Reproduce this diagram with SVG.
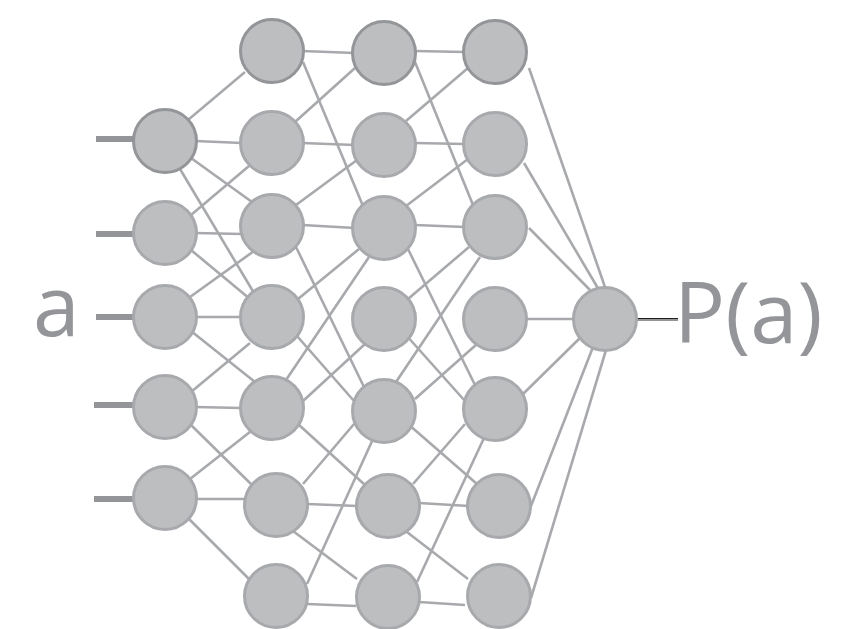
<svg xmlns="http://www.w3.org/2000/svg" width="861" height="629" viewBox="0 0 861 629">
  <style>
    .edge { stroke: #a7a9ac; stroke-width: 2.6; fill: none; }
    .stub { stroke: #939598; stroke-width: 6; fill: none; }
    .node { fill: #bcbec0; stroke: #a7a9ac; stroke-width: 3; }
    .node.top { stroke: #939598; }
    .label { font-family: "Open Sans", "Liberation Sans", sans-serif; fill: #939598; }
  </style>
  <rect width="861" height="629" fill="#ffffff"/>

  <g id="connectors">
    <!-- input stubs -->
    <line class="stub" x1="96" y1="139" x2="140" y2="139"/>
    <line class="stub" x1="96" y1="234" x2="140" y2="234"/>
    <line class="stub" x1="96" y1="317" x2="140" y2="317"/>
    <line class="stub" x1="94" y1="405" x2="140" y2="405"/>
    <line class="stub" x1="94" y1="499" x2="140" y2="499"/>
    <!-- inputs to layer 1 -->
    <line class="edge" x1="188" y1="120" x2="245" y2="72"/>
    <line class="edge" x1="195" y1="141" x2="242" y2="143"/>
    <line class="edge" x1="191" y1="158" x2="252" y2="202"/>
    <line class="edge" x1="180" y1="169" x2="254" y2="293"/>
    <line class="edge" x1="191" y1="215" x2="249" y2="166"/>
    <line class="edge" x1="195" y1="233" x2="242" y2="234"/>
    <line class="edge" x1="191" y1="250" x2="250" y2="299"/>
    <line class="edge" x1="190" y1="297" x2="254" y2="251"/>
    <line class="edge" x1="195" y1="317" x2="242" y2="317"/>
    <line class="edge" x1="191" y1="331" x2="255" y2="382"/>
    <line class="edge" x1="191" y1="392" x2="250" y2="343"/>
    <line class="edge" x1="195" y1="407" x2="242" y2="408"/>
    <line class="edge" x1="191" y1="425" x2="252" y2="485"/>
    <line class="edge" x1="190" y1="479" x2="255" y2="428"/>
    <line class="edge" x1="195" y1="499" x2="252" y2="499"/>
    <line class="edge" x1="188" y1="518" x2="249" y2="579"/>
    <!-- layer 1 to layer 2 -->
    <line class="edge" x1="302" y1="51" x2="355" y2="53"/>
    <line class="edge" x1="303" y1="62" x2="363" y2="206"/>
    <line class="edge" x1="295" y1="122" x2="355" y2="68"/>
    <line class="edge" x1="302" y1="143" x2="355" y2="145"/>
    <line class="edge" x1="296" y1="205" x2="357" y2="160"/>
    <line class="edge" x1="302" y1="225" x2="355" y2="228"/>
    <line class="edge" x1="296" y1="247" x2="364" y2="387"/>
    <line class="edge" x1="298" y1="299" x2="359" y2="249"/>
    <line class="edge" x1="297" y1="336" x2="354" y2="401"/>
    <line class="edge" x1="369" y1="257" x2="286" y2="380"/>
    <line class="edge" x1="303" y1="401" x2="365" y2="344"/>
    <line class="edge" x1="298" y1="424" x2="365" y2="485"/>
    <line class="edge" x1="303" y1="484" x2="354" y2="424"/>
    <line class="edge" x1="373" y1="439" x2="307" y2="584"/>
    <line class="edge" x1="307" y1="504" x2="358" y2="506"/>
    <line class="edge" x1="293" y1="531" x2="357" y2="579"/>
    <line class="edge" x1="307" y1="604" x2="356" y2="606"/>
    <!-- layer 2 to layer 3 -->
    <line class="edge" x1="415" y1="51" x2="465" y2="52"/>
    <line class="edge" x1="415" y1="62" x2="473" y2="205"/>
    <line class="edge" x1="406" y1="121" x2="468" y2="68"/>
    <line class="edge" x1="415" y1="143" x2="465" y2="144"/>
    <line class="edge" x1="406" y1="206" x2="468" y2="159"/>
    <line class="edge" x1="415" y1="225" x2="465" y2="227"/>
    <line class="edge" x1="406" y1="245" x2="475" y2="385"/>
    <line class="edge" x1="408" y1="299" x2="469" y2="247"/>
    <line class="edge" x1="480" y1="257" x2="396" y2="382"/>
    <line class="edge" x1="406" y1="335" x2="465" y2="401"/>
    <line class="edge" x1="415" y1="399" x2="477" y2="344"/>
    <line class="edge" x1="408" y1="424" x2="477" y2="484"/>
    <line class="edge" x1="413" y1="484" x2="465" y2="424"/>
    <line class="edge" x1="419" y1="503" x2="469" y2="506"/>
    <line class="edge" x1="484" y1="438" x2="417" y2="582"/>
    <line class="edge" x1="403" y1="529" x2="468" y2="579"/>
    <line class="edge" x1="419" y1="602" x2="465" y2="605"/>
    <!-- layer 3 to output -->
    <line class="edge" x1="529" y1="68" x2="606" y2="290"/>
    <line class="edge" x1="524" y1="163" x2="599" y2="290"/>
    <line class="edge" x1="529" y1="228" x2="590" y2="290"/>
    <line class="edge" x1="525" y1="319" x2="577" y2="319"/>
    <line class="edge" x1="523" y1="394" x2="580" y2="338"/>
    <line class="edge" x1="531" y1="506" x2="593" y2="347"/>
    <line class="edge" x1="531" y1="598" x2="606" y2="350"/>
    <!-- output stub -->
    <line x1="634" y1="319.5" x2="678" y2="319.5" stroke="#939598" stroke-width="3"/>
    <line x1="634" y1="318.5" x2="678" y2="318.5" stroke="#231f20" stroke-width="1.2"/>
  </g>

  <!-- input layer -->
  <g id="in1"><circle class="node top" cx="165" cy="141" r="31.5"/></g>
  <g id="in2"><circle class="node" cx="165" cy="233" r="31.5"/></g>
  <g id="in3"><circle class="node" cx="165" cy="317" r="31.5"/></g>
  <g id="in4"><circle class="node" cx="165" cy="407" r="31.5"/></g>
  <g id="in5"><circle class="node" cx="165" cy="498" r="31.5"/></g>

  <!-- hidden layer 1 -->
  <g id="h1-1"><circle class="node top" cx="272" cy="51" r="31.5"/></g>
  <g id="h1-2"><circle class="node" cx="272" cy="143" r="31.5"/></g>
  <g id="h1-3"><circle class="node" cx="272" cy="226" r="31.5"/></g>
  <g id="h1-4"><circle class="node" cx="272" cy="317" r="31.5"/></g>
  <g id="h1-5"><circle class="node" cx="272" cy="408" r="31.5"/></g>
  <g id="h1-6"><circle class="node" cx="276" cy="505" r="31.5"/></g>
  <g id="h1-7"><circle class="node" cx="276" cy="596" r="31.5"/></g>

  <!-- hidden layer 2 -->
  <g id="h2-1"><circle class="node top" cx="384" cy="53" r="31.5"/></g>
  <g id="h2-2"><circle class="node" cx="384" cy="145" r="31.5"/></g>
  <g id="h2-3"><circle class="node" cx="384" cy="228" r="31.5"/></g>
  <g id="h2-4"><circle class="node" cx="384" cy="319" r="31.5"/></g>
  <g id="h2-5"><circle class="node" cx="384" cy="411" r="31.5"/></g>
  <g id="h2-6"><circle class="node" cx="388" cy="506" r="31.5"/></g>
  <g id="h2-7"><circle class="node" cx="388" cy="597" r="31.5"/></g>

  <!-- hidden layer 3 -->
  <g id="h3-1"><circle class="node top" cx="495" cy="52" r="31.5"/></g>
  <g id="h3-2"><circle class="node" cx="495" cy="144" r="31.5"/></g>
  <g id="h3-3"><circle class="node" cx="495" cy="227" r="31.5"/></g>
  <g id="h3-4"><circle class="node" cx="495" cy="319" r="31.5"/></g>
  <g id="h3-5"><circle class="node" cx="495" cy="409" r="31.5"/></g>
  <g id="h3-6"><circle class="node" cx="499" cy="506" r="31.5"/></g>
  <g id="h3-7"><circle class="node" cx="499" cy="596" r="31.5"/></g>

  <!-- output -->
  <g id="out"><circle class="node" cx="605" cy="319" r="31.5"/></g>

  <g id="labels">
    <text class="label" x="33" y="336" font-size="84">a</text>
    <text class="label" x="674" y="343" font-size="85">P(a)</text>
  </g>
</svg>
